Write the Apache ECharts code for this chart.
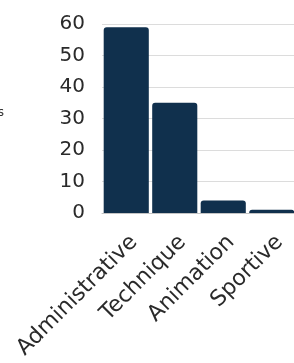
<!DOCTYPE html>
<html>
<head>
<meta charset="utf-8">
<script src="https://cdn.jsdelivr.net/npm/echarts@6/dist/echarts.min.js"></script>
<style>
html,body{margin:0;padding:0;background:#fff;}
#chart{width:294px;height:363px;}
</style>
</head>
<body>
<div id="chart"></div>
<script>
const categories = ["Administrative", "Technique", "Animation", "Sportive"];
const values = [59, 35, 4, 1];
const yTicks = { min: 0, max: 60, interval: 10 };
const yName = "Effectifs";

const chart = echarts.init(document.getElementById('chart'), null, { renderer: 'canvas' });
chart.setOption({
  animation: false,
  grid: { left: 102, top: 24, width: 194, height: 189, containLabel: false, outerBoundsMode: 'none' },
  xAxis: {
    type: 'category',
    data: categories,
    axisLine: { show: true, lineStyle: { color: '#c4c4c4', width: 1 } },
    axisTick: { show: false },
    axisLabel: {
      rotate: 45,
      interval: 0,
      margin: 18,
      color: '#2a2a2a',
      fontFamily: 'DejaVu Sans',
      fontSize: 22,
      verticalAlign: 'top'
    }
  },
  yAxis: {
    type: 'value',
    min: yTicks.min,
    max: yTicks.max,
    interval: yTicks.interval,
    name: yName,
    nameLocation: 'middle',
    nameRotate: 0,
    nameGap: 98,
    nameTextStyle: { align: 'right', verticalAlign: 'bottom', fontSize: 12, color: '#333', fontFamily: 'DejaVu Sans' },
    axisLine: { show: false },
    axisTick: { show: false },
    splitLine: { lineStyle: { color: '#dcdcdc', width: 1 } },
    axisLabel: {
      margin: 17,
      color: '#2a2a2a',
      fontFamily: 'DejaVu Sans',
      fontSize: 20
    }
  },
  series: [{
    type: 'bar',
    data: values,
    barCategoryGap: '7%',
    itemStyle: { color: '#10304d', borderRadius: [3, 3, 0, 0] }
  }]
});
</script>
</body>
</html>
